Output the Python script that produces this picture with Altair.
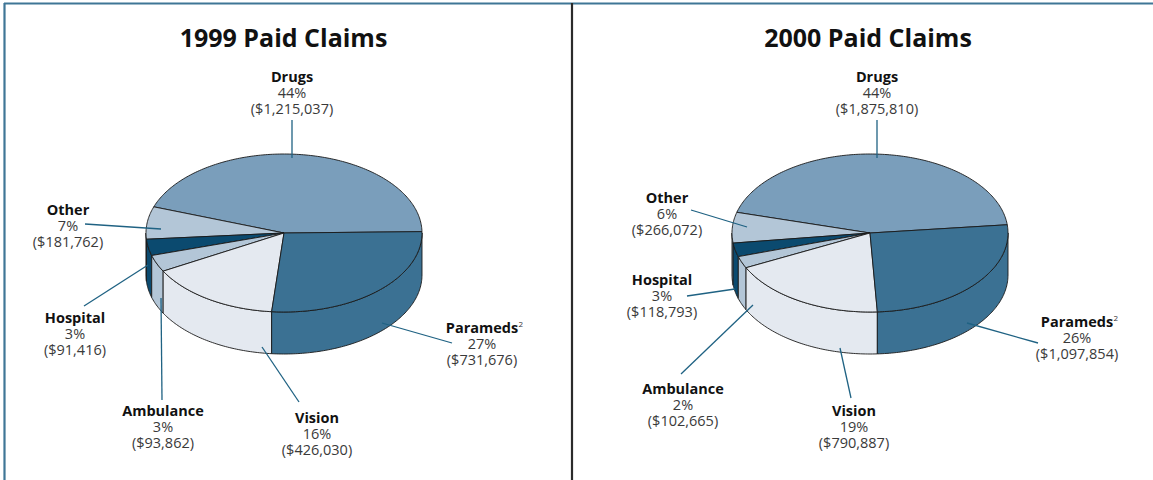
import math
import altair as alt
import pandas as pd

# ---------------- data ----------------
categories = ["Drugs", "Other", "Hospital", "Ambulance", "Vision", "Parameds"]
paid_1999 = [1215037, 181762, 91416, 93862, 426030, 731676]
paid_2000 = [1875810, 266072, 118793, 102665, 790887, 1097854]
years = ["1999", "2000"]
titles = ["1999 Paid Claims", "2000 Paid Claims"]
footnote_marks = {"Parameds": "2"}

# ---------------- styles / layout ----------------
COLORS = {
    "Drugs": "#7a9ebb",
    "Other": "#b3c6d7",
    "Hospital": "#0b4a6f",
    "Ambulance": "#b3c6d7",
    "Vision": "#e4e9f0",
    "Parameds": "#3b7193",
}
FONT = "Open Sans"
W, H = 1153, 480

PIES = {
    "1999": dict(cx=284, cy=233, rx=138, ry=79, depth=42, start=1.0, title_x=283.5),
    "2000": dict(cx=870, cy=233, rx=138, ry=79, depth=42, start=6.0, title_x=868),
}
# label: (center x, baseline of name line, leader start, leader end)
LABELS = {
    "1999": {
        "Drugs": (292, 82, (292, 120), (292, 158)),
        "Other": (68, 215, (85, 224), (161, 229)),
        "Hospital": (75, 323, (84, 306), (148, 265)),
        "Ambulance": (163, 416, (162, 400), (161, 298)),
        "Vision": (317, 423, (299, 402), (262, 347)),
        "Parameds": (482, 333, (452, 343), (382, 323)),
    },
    "2000": {
        "Drugs": (877, 82, (877, 120), (877, 158)),
        "Other": (667, 203, (691, 210), (747, 227)),
        "Hospital": (662, 285, (687, 296), (735, 289)),
        "Ambulance": (683, 394, (681, 374), (753, 305)),
        "Vision": (854, 416, (851, 398), (840, 348)),
        "Parameds": (1077, 327, (1038, 343), (967, 323)),
    },
}
LINE_STEP = 15.8
FONT_SIZE = 14.5
SUPER_DX = 36.5

# ---------------- geometry from the values ----------------
poly_rows = []
name_rows = []
detail_rows = []
leader_rows = []
super_rows = []


def pt(g, ang, dy=0.0):
    r = math.radians(ang)
    return g["cx"] + g["rx"] * math.cos(r), g["cy"] - g["ry"] * math.sin(r) + dy


def arc_angles(a0, a1):
    n = max(2, int(abs(a1 - a0)) + 1)
    return [a0 + (a1 - a0) * i / n for i in range(n + 1)]


pid = 0
for year, values in zip(years, [paid_1999, paid_2000]):
    g = PIES[year]
    total = sum(values)
    a = g["start"]
    for cat, v in zip(categories, values):
        span = 360.0 * v / total
        a0, a1 = a, a + span
        a = a1
        # side walls (front half only)
        for lo, hi in [(180, 360), (540, 720)]:
            s0, s1 = max(a0, lo), min(a1, hi)
            if s1 > s0:
                pts = [pt(g, t) for t in arc_angles(s0, s1)]
                pts += [pt(g, t, g["depth"]) for t in reversed(arc_angles(s0, s1))]
                pts.append(pts[0])
                for i, (x, y) in enumerate(pts):
                    poly_rows.append(dict(pid=f"a{pid:03d}", i=i, x=x, y=y, color=COLORS[cat]))
                pid += 1
        # top face
        pts = [(g["cx"], g["cy"])] + [pt(g, t) for t in arc_angles(a0, a1)] + [(g["cx"], g["cy"])]
        for i, (x, y) in enumerate(pts):
            poly_rows.append(dict(pid=f"b{pid:03d}", i=i, x=x, y=y, color=COLORS[cat]))
        pid += 1

        # labels
        lx, ly, p1, p2 = LABELS[year][cat]
        pct = f"{round(100 * v / total)}%"
        name_rows.append(dict(x=lx, y=ly, text=cat))
        detail_rows.append(dict(x=lx, y=ly + LINE_STEP, text=f"{pct}\n(${v:,})"))
        leader_rows.append(dict(x=p1[0], y=p1[1], x2=p2[0], y2=p2[1]))
        if cat in footnote_marks:
            super_rows.append(dict(x=lx + SUPER_DX, y=ly - 6, text=footnote_marks[cat]))

poly_df = pd.DataFrame(poly_rows)
name_df = pd.DataFrame(name_rows)
detail_df = pd.DataFrame(detail_rows)
leader_df = pd.DataFrame(leader_rows)
super_df = pd.DataFrame(super_rows)
title_df = pd.DataFrame(
    [dict(x=PIES[y]["title_x"], y=47, text=t) for y, t in zip(years, titles)]
)
frame_df = pd.DataFrame(
    [
        dict(x=4, x2=W, y=3.5, y2=3.5, c="#3f7696", w=2.2),
        dict(x=4.5, x2=4.5, y=3, y2=H, c="#3f7696", w=2.2),
        dict(x=572, x2=572, y=3, y2=H, c="#2b2b2b", w=2.2),
    ]
)

xs = alt.Scale(domain=[0, W], nice=False, zero=False)
ys = alt.Scale(domain=[0, H], reverse=True, nice=False, zero=False)
X = lambda f: alt.X(f, type="quantitative", scale=xs, axis=None)
Y = lambda f: alt.Y(f, type="quantitative", scale=ys, axis=None)

slices = alt.Chart(poly_df).mark_line(
    stroke="#1a1a1a", strokeWidth=0.9, strokeJoin="round"
).encode(
    x=X("x"),
    y=Y("y"),
    detail="pid:N",
    order="i:Q",
    fill=alt.Fill("color:N", scale=None),
)

leaders = alt.Chart(leader_df).mark_rule(color="#1f6283", strokeWidth=1.3).encode(
    x=X("x"), y=Y("y"), x2="x2:Q", y2="y2:Q"
)

names = alt.Chart(name_df).mark_text(
    font=FONT, fontSize=FONT_SIZE, fontWeight="bold", color="#111111", align="center", baseline="alphabetic"
).encode(x=X("x"), y=Y("y"), text="text:N")

details = alt.Chart(detail_df).mark_text(
    font=FONT, fontSize=FONT_SIZE, color="#3a3a3a", align="center", baseline="alphabetic",
    lineBreak="\n", lineHeight=LINE_STEP,
).encode(x=X("x"), y=Y("y"), text="text:N")

supers = alt.Chart(super_df).mark_text(
    font=FONT, fontSize=8, color="#333333", align="left", baseline="alphabetic"
).encode(x=X("x"), y=Y("y"), text="text:N")

title_marks = alt.Chart(title_df).mark_text(
    font=FONT, fontSize=25, fontWeight="bold", color="#111111", align="center", baseline="alphabetic"
).encode(x=X("x"), y=Y("y"), text="text:N")

frame = alt.Chart(frame_df).mark_rule().encode(
    x=X("x"), y=Y("y"), x2="x2:Q", y2="y2:Q",
    color=alt.Color("c:N", scale=None), strokeWidth=alt.StrokeWidth("w:Q", scale=None),
)

chart = alt.layer(frame, slices, leaders, names, details, supers, title_marks).properties(
    width=W, height=H, padding=0, autosize="none", background="white"
).configure_view(stroke=None)

chart.save("out.html", embed_options={"renderer": "svg", "actions": False})
